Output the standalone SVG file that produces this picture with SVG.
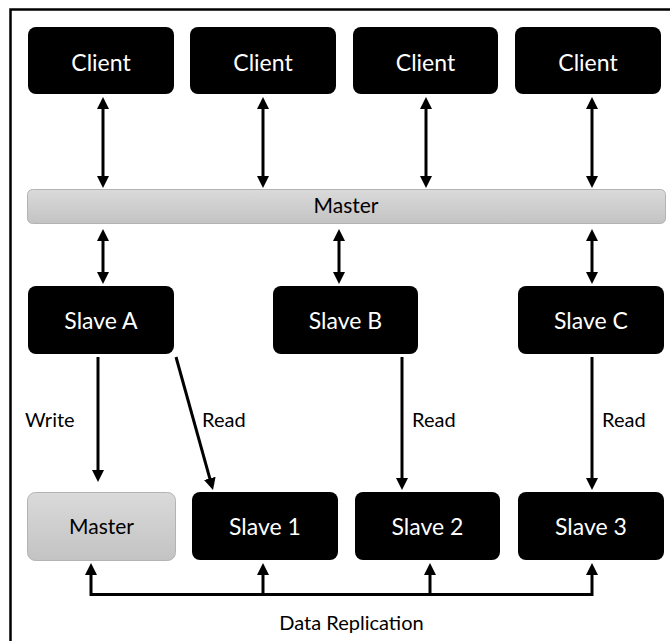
<svg xmlns="http://www.w3.org/2000/svg" width="670" height="641" viewBox="0 0 670 641">
<defs>
<style>
.dark{fill:#000;}
.gray{fill:url(#g);stroke:#b3b3b3;stroke-width:1;}
.wt{fill:#fff;font-family:Lato,"Open Sans",sans-serif;font-size:23px;text-anchor:middle;}
.bt{fill:#000;font-family:Lato,"Open Sans",sans-serif;font-size:21px;text-anchor:middle;}
.lbl{fill:#000;font-family:Lato,"Open Sans",sans-serif;font-size:20px;}
.c{fill:none;stroke:#000;stroke-width:3;}
.a2{marker-start:url(#ah);marker-end:url(#ah);}
.a1{marker-end:url(#ah);}
</style>
<linearGradient id="g" x1="0" y1="0" x2="0" y2="1">
<stop offset="0" stop-color="#dadada"/>
<stop offset="1" stop-color="#c3c3c3"/>
</linearGradient>
<marker id="ah" viewBox="0 0 12 12" refX="6" refY="6" markerWidth="12" markerHeight="12" markerUnits="userSpaceOnUse" orient="auto-start-reverse">
<path d="M0,0 L12,6 L0,12 z" fill="#000"/>
</marker>
</defs>
<rect x="0" y="0" width="670" height="641" fill="#fff"/>
<path d="M10.5,641 V9.5 H670" fill="none" stroke="#000" stroke-width="2.5"/>

<g id="client1"><rect class="dark" x="28" y="27" width="146" height="67" rx="8"/><text class="wt" x="101" y="71">Client</text></g>
<g id="client2"><rect class="dark" x="190" y="27" width="146" height="67" rx="8"/><text class="wt" x="263" y="71">Client</text></g>
<g id="client3"><rect class="dark" x="353" y="27" width="145" height="67" rx="8"/><text class="wt" x="425.5" y="71">Client</text></g>
<g id="client4"><rect class="dark" x="515" y="27" width="146" height="67" rx="8"/><text class="wt" x="588" y="71">Client</text></g>

<g id="masterbar"><rect class="gray" x="27.5" y="189.5" width="638" height="34" rx="5"/><text class="bt" x="346" y="213">Master</text></g>

<g id="slaveA"><rect class="dark" x="28" y="286" width="146" height="68" rx="8"/><text class="wt" x="101" y="329">Slave A</text></g>
<g id="slaveB"><rect class="dark" x="273" y="286" width="145" height="68" rx="8"/><text class="wt" x="345.5" y="329">Slave B</text></g>
<g id="slaveC"><rect class="dark" x="518" y="286" width="146" height="68" rx="8"/><text class="wt" x="591" y="329">Slave C</text></g>

<g id="master2"><rect class="gray" x="27.5" y="492.5" width="148" height="68" rx="8"/><text class="bt" x="101.5" y="534">Master</text></g>
<g id="slave1"><rect class="dark" x="192" y="492" width="146" height="68" rx="8"/><text class="wt" x="265" y="535">Slave 1</text></g>
<g id="slave2"><rect class="dark" x="355" y="492" width="145" height="68" rx="8"/><text class="wt" x="427.5" y="535">Slave 2</text></g>
<g id="slave3"><rect class="dark" x="518" y="492" width="146" height="68" rx="8"/><text class="wt" x="591" y="535">Slave 3</text></g>

<g id="connectors">
<line class="c a2" x1="103" y1="103" x2="103" y2="182"/>
<line class="c a2" x1="263" y1="103" x2="263" y2="182"/>
<line class="c a2" x1="426" y1="103" x2="426" y2="182"/>
<line class="c a2" x1="592" y1="103" x2="592" y2="182"/>
<line class="c a2" x1="103" y1="235" x2="103" y2="278"/>
<line class="c a2" x1="339" y1="235" x2="339" y2="278"/>
<line class="c a2" x1="592" y1="235" x2="592" y2="278"/>
<line class="c a1" x1="98" y1="357" x2="98" y2="476"/>
<line class="c a1" x1="176" y1="357" x2="211.4" y2="484.2"/>
<line class="c a1" x1="402" y1="357" x2="402" y2="484"/>
<line class="c a1" x1="592" y1="357" x2="592" y2="484"/>
<path class="c a2" d="M91,569 V594.5 H592 V569"/>
<line class="c a1" x1="263" y1="594.5" x2="263" y2="569"/>
<line class="c a1" x1="430" y1="594.5" x2="430" y2="569"/>
<text class="lbl" x="25" y="427">Write</text>
<text class="lbl" x="202" y="427">Read</text>
<text class="lbl" x="412" y="427">Read</text>
<text class="lbl" x="602" y="427">Read</text>
<text class="lbl" x="351.5" y="630" text-anchor="middle">Data Replication</text>
</g>
</svg>
